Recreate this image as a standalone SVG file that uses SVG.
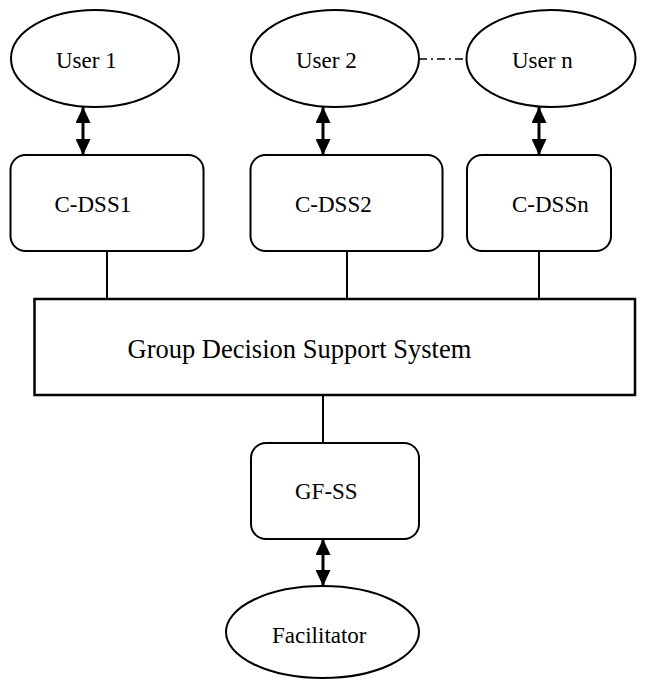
<svg xmlns="http://www.w3.org/2000/svg" width="654" height="679" viewBox="0 0 654 679">
  <defs>
    <style>
      .shape { fill: #ffffff; stroke: #000000; stroke-width: 2; }
      .label { font-family: 'Liberation Serif', 'Times New Roman', serif; font-size: 23px; fill: #000000; }
      .big { font-size: 26.5px; }
      .link { stroke: #000000; stroke-width: 2; fill: none; }
      .both { stroke: #000000; stroke-width: 3; fill: none; marker-start: url(#head); marker-end: url(#head); }
      .chain { stroke: #000000; stroke-width: 1.6; fill: none; stroke-dasharray: 8 4 2 4; }
    </style>
    <marker id="head" viewBox="0 0 16 15" refX="16" refY="7.5" markerWidth="16" markerHeight="15" markerUnits="userSpaceOnUse" orient="auto-start-reverse">
      <path d="M0,0 L16,7.5 L0,15 z" fill="#000000"/>
    </marker>
  </defs>

  <rect width="654" height="679" fill="#ffffff"/>

  <!-- connectors -->
  <g id="connectors">
    <line class="both" x1="83" y1="107" x2="83" y2="155"/>
    <line class="both" x1="323" y1="107" x2="323" y2="155"/>
    <line class="both" x1="539" y1="107" x2="539" y2="155"/>
    <line class="chain" x1="419" y1="59" x2="467" y2="59"/>
    <line class="link" x1="107" y1="251" x2="107" y2="299"/>
    <line class="link" x1="347" y1="251" x2="347" y2="299"/>
    <line class="link" x1="539" y1="251" x2="539" y2="299"/>
    <line class="link" x1="323" y1="395" x2="323" y2="443"/>
    <line class="both" x1="323" y1="539" x2="323" y2="586"/>
  </g>

  <!-- users -->
  <g id="user1">
    <ellipse class="shape" cx="95" cy="58.5" rx="84" ry="48.5"/>
    <text class="label" x="56" y="68">User 1</text>
  </g>
  <g id="user2">
    <ellipse class="shape" cx="335" cy="58.5" rx="84" ry="48.5"/>
    <text class="label" x="296" y="68">User 2</text>
  </g>
  <g id="usern">
    <ellipse class="shape" cx="551" cy="58.5" rx="84.5" ry="48.5"/>
    <text class="label" x="512" y="68">User n</text>
  </g>

  <!-- client decision support systems -->
  <g id="cdss1">
    <rect class="shape" x="10.5" y="155" width="193" height="96" rx="15"/>
    <text class="label" x="54.5" y="212">C-DSS1</text>
  </g>
  <g id="cdss2">
    <rect class="shape" x="250.5" y="155" width="192" height="96" rx="15"/>
    <text class="label" x="295" y="212">C-DSS2</text>
  </g>
  <g id="cdssn">
    <rect class="shape" x="467" y="155" width="144" height="96" rx="15"/>
    <text class="label" x="512" y="212">C-DSSn</text>
  </g>

  <!-- group decision support system -->
  <g id="gdss">
    <rect class="shape" x="34.5" y="299" width="600.5" height="96" style="stroke-width:2.5"/>
    <text class="label big" x="127.5" y="358">Group Decision Support System</text>
  </g>

  <!-- facilitator support -->
  <g id="gfss">
    <rect class="shape" x="251" y="443" width="168" height="96" rx="15"/>
    <text class="label" x="295" y="499">GF-SS</text>
  </g>
  <g id="facilitator">
    <ellipse class="shape" cx="322.5" cy="632" rx="96.5" ry="46"/>
    <text class="label" x="272" y="643">Facilitator</text>
  </g>
</svg>
